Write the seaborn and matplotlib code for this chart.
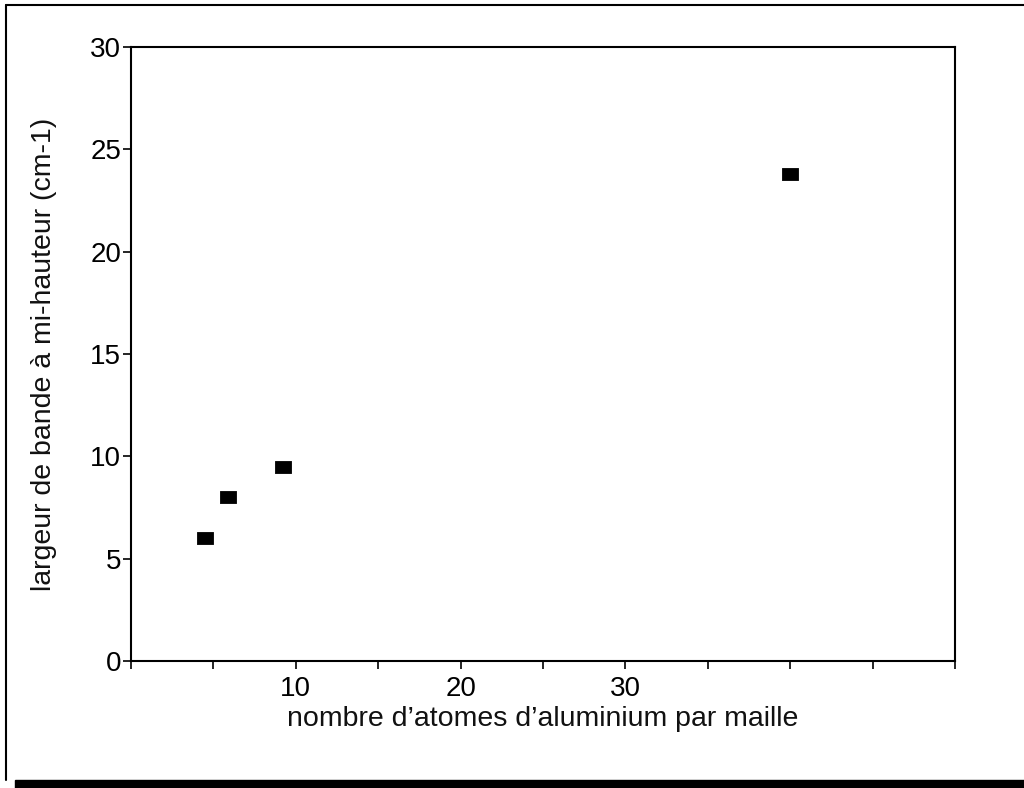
import matplotlib
matplotlib.use("Agg")
import matplotlib.pyplot as plt
import seaborn as sns
import pandas as pd
from matplotlib.lines import Line2D
from matplotlib.patches import Rectangle

x_al = [4.5, 5.9, 9.2, 40.0]
y_width = [6.0, 8.0, 9.5, 23.8]
x_ticks = [0, 5, 10, 15, 20, 25, 30, 35, 40, 45, 50]
x_labels = ["", "", "10", "", "20", "", "30", "", "", "", ""]
y_ticks = [0, 5, 10, 15, 20, 25, 30]

sns.set_theme(style="white")
plt.rcParams['font.family'] = ['Liberation Sans', 'DejaVu Sans']

df = pd.DataFrame({"x": x_al, "y": y_width})

fig = plt.figure(figsize=(10.24, 7.88), dpi=100)
ax = fig.add_axes([131/1024, 1-661/788, (955-131)/1024, (661-47)/788])

rect_marker = [(-1.35, -1), (1.35, -1), (1.35, 1), (-1.35, 1), (-1.35, -1)]
sns.scatterplot(data=df, x="x", y="y", ax=ax, marker=rect_marker, s=120,
                color="black", edgecolor="black", linewidth=0.6, zorder=3)

ax.set_xlim(0, 50)
ax.set_ylim(0, 30)
ax.set_xticks(x_ticks)
ax.set_xticklabels(x_labels)
ax.set_yticks(y_ticks)
ax.set_yticklabels([str(t) for t in y_ticks])
ax.tick_params(axis="both", direction="out", length=6, width=1.2, color="black",
               labelsize=20, labelcolor="black", bottom=True, left=True)
ax.tick_params(axis="x", pad=5)
ax.tick_params(axis="y", pad=1)
for sp in ax.spines.values():
    sp.set_color("black")
    sp.set_linewidth(1.5)
    sp.set_visible(True)

ax.set_xlabel("nombre d\u2019atomes d\u2019aluminium par maille", fontsize=20.5, color="#111111", labelpad=3)
ax.set_ylabel("largeur de bande à mi-hauteur (cm-1)", fontsize=20.5, color="#111111", labelpad=24)

# outer frame
fig.add_artist(Line2D([6/1024, 6/1024], [1-5/788, 1-780/788], transform=fig.transFigure, color="black", lw=1.5))
fig.add_artist(Line2D([6/1024, 1.0], [1-5/788, 1-5/788], transform=fig.transFigure, color="black", lw=1.5))
fig.add_artist(Rectangle((15/1024, 0), 1 - 15/1024, 8/788, transform=fig.transFigure, color="black"))

fig.savefig("out.png", dpi=100)
